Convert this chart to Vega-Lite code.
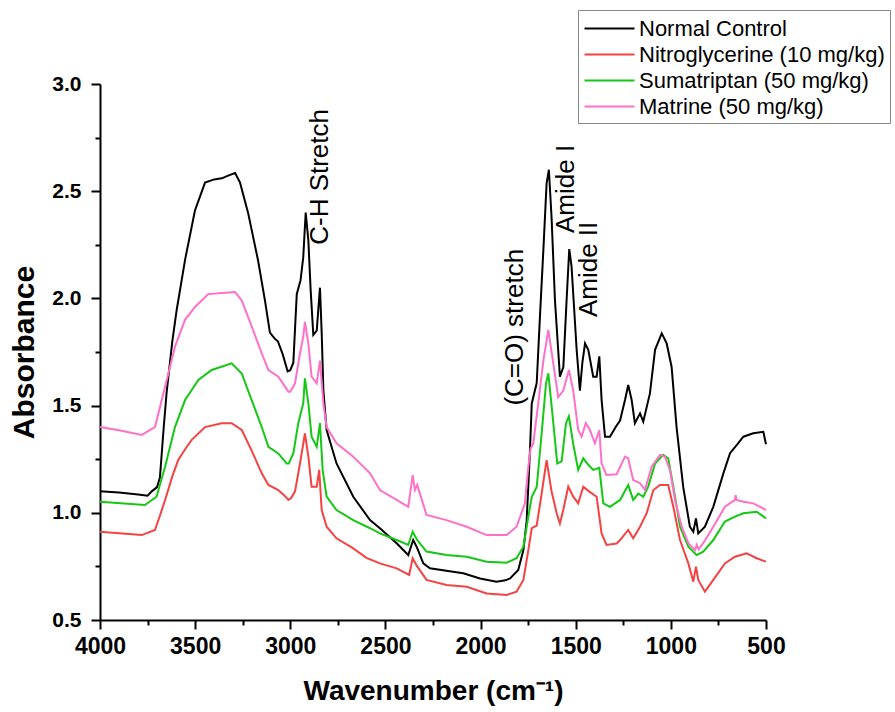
{
  "$schema": "https://vega.github.io/schema/vega-lite/v6.json",
  "width": 666,
  "height": 536,
  "autosize": {"type": "none"},
  "padding": {"left": 100, "top": 84, "right": 129, "bottom": 92},
  "background": "white",
  "config": {
    "view": {"stroke": null},
    "font": "Liberation Sans",
    "axis": {
      "grid": false,
      "domainColor": "black",
      "domainWidth": 2,
      "labelColor": "black",
      "labelFont": "Liberation Sans",
      "labelFontWeight": "bold",
      "titleFont": "Liberation Sans",
      "titleFontWeight": "bold",
      "titleColor": "black",
      "labelFlush": false,
      "labelOverlap": false
    }
  },
  "resolve": {"axis": {"x": "independent", "y": "independent"}},
  "datasets": {
    "spectra": [
      {"w":4000,"a":1.10,"s":"Normal Control"},{"w":3900,"a":1.095,"s":"Normal Control"},{"w":3800,"a":1.085,"s":"Normal Control"},{"w":3750,"a":1.08,"s":"Normal Control"},{"w":3728,"a":1.10,"s":"Normal Control"},{"w":3700,"a":1.12,"s":"Normal Control"},{"w":3685,"a":1.165,"s":"Normal Control"},{"w":3665,"a":1.40,"s":"Normal Control"},{"w":3650,"a":1.56,"s":"Normal Control"},{"w":3620,"a":1.80,"s":"Normal Control"},{"w":3597,"a":1.946,"s":"Normal Control"},{"w":3553,"a":2.18,"s":"Normal Control"},{"w":3501,"a":2.41,"s":"Normal Control"},{"w":3448,"a":2.54,"s":"Normal Control"},{"w":3400,"a":2.555,"s":"Normal Control"},{"w":3360,"a":2.56,"s":"Normal Control"},{"w":3320,"a":2.575,"s":"Normal Control"},{"w":3290,"a":2.585,"s":"Normal Control"},{"w":3264,"a":2.54,"s":"Normal Control"},{"w":3222,"a":2.40,"s":"Normal Control"},{"w":3170,"a":2.18,"s":"Normal Control"},{"w":3133,"a":1.99,"s":"Normal Control"},{"w":3107,"a":1.84,"s":"Normal Control"},{"w":3080,"a":1.81,"s":"Normal Control"},{"w":3065,"a":1.80,"s":"Normal Control"},{"w":3040,"a":1.74,"s":"Normal Control"},{"w":3014,"a":1.66,"s":"Normal Control"},{"w":3000,"a":1.665,"s":"Normal Control"},{"w":2984,"a":1.70,"s":"Normal Control"},{"w":2966,"a":2.02,"s":"Normal Control"},{"w":2946,"a":2.085,"s":"Normal Control"},{"w":2932,"a":2.19,"s":"Normal Control"},{"w":2919,"a":2.40,"s":"Normal Control"},{"w":2905,"a":2.27,"s":"Normal Control"},{"w":2893,"a":2.04,"s":"Normal Control"},{"w":2879,"a":1.83,"s":"Normal Control"},{"w":2861,"a":1.85,"s":"Normal Control"},{"w":2850,"a":1.98,"s":"Normal Control"},{"w":2844,"a":2.05,"s":"Normal Control"},{"w":2835,"a":1.84,"s":"Normal Control"},{"w":2826,"a":1.57,"s":"Normal Control"},{"w":2809,"a":1.386,"s":"Normal Control"},{"w":2757,"a":1.23,"s":"Normal Control"},{"w":2669,"a":1.075,"s":"Normal Control"},{"w":2581,"a":0.966,"s":"Normal Control"},{"w":2529,"a":0.928,"s":"Normal Control"},{"w":2441,"a":0.858,"s":"Normal Control"},{"w":2380,"a":0.803,"s":"Normal Control"},{"w":2354,"a":0.873,"s":"Normal Control"},{"w":2336,"a":0.842,"s":"Normal Control"},{"w":2301,"a":0.764,"s":"Normal Control"},{"w":2266,"a":0.741,"s":"Normal Control"},{"w":2180,"a":0.73,"s":"Normal Control"},{"w":2091,"a":0.718,"s":"Normal Control"},{"w":2003,"a":0.694,"s":"Normal Control"},{"w":1916,"a":0.679,"s":"Normal Control"},{"w":1870,"a":0.685,"s":"Normal Control"},{"w":1845,"a":0.694,"s":"Normal Control"},{"w":1802,"a":0.733,"s":"Normal Control"},{"w":1775,"a":0.826,"s":"Normal Control"},{"w":1758,"a":0.96,"s":"Normal Control"},{"w":1746,"a":1.184,"s":"Normal Control"},{"w":1740,"a":1.30,"s":"Normal Control"},{"w":1731,"a":1.51,"s":"Normal Control"},{"w":1705,"a":1.605,"s":"Normal Control"},{"w":1688,"a":1.915,"s":"Normal Control"},{"w":1670,"a":2.226,"s":"Normal Control"},{"w":1653,"a":2.537,"s":"Normal Control"},{"w":1641,"a":2.60,"s":"Normal Control"},{"w":1627,"a":2.38,"s":"Normal Control"},{"w":1609,"a":1.99,"s":"Normal Control"},{"w":1583,"a":1.635,"s":"Normal Control"},{"w":1565,"a":1.68,"s":"Normal Control"},{"w":1548,"a":1.99,"s":"Normal Control"},{"w":1534,"a":2.23,"s":"Normal Control"},{"w":1522,"a":2.15,"s":"Normal Control"},{"w":1495,"a":1.76,"s":"Normal Control"},{"w":1478,"a":1.57,"s":"Normal Control"},{"w":1465,"a":1.70,"s":"Normal Control"},{"w":1451,"a":1.79,"s":"Normal Control"},{"w":1434,"a":1.76,"s":"Normal Control"},{"w":1408,"a":1.635,"s":"Normal Control"},{"w":1390,"a":1.635,"s":"Normal Control"},{"w":1376,"a":1.73,"s":"Normal Control"},{"w":1364,"a":1.526,"s":"Normal Control"},{"w":1346,"a":1.355,"s":"Normal Control"},{"w":1320,"a":1.355,"s":"Normal Control"},{"w":1290,"a":1.40,"s":"Normal Control"},{"w":1267,"a":1.43,"s":"Normal Control"},{"w":1241,"a":1.526,"s":"Normal Control"},{"w":1224,"a":1.596,"s":"Normal Control"},{"w":1206,"a":1.526,"s":"Normal Control"},{"w":1189,"a":1.418,"s":"Normal Control"},{"w":1162,"a":1.464,"s":"Normal Control"},{"w":1145,"a":1.425,"s":"Normal Control"},{"w":1110,"a":1.557,"s":"Normal Control"},{"w":1083,"a":1.76,"s":"Normal Control"},{"w":1048,"a":1.837,"s":"Normal Control"},{"w":1022,"a":1.79,"s":"Normal Control"},{"w":996,"a":1.68,"s":"Normal Control"},{"w":970,"a":1.40,"s":"Normal Control"},{"w":935,"a":1.12,"s":"Normal Control"},{"w":900,"a":0.935,"s":"Normal Control"},{"w":882,"a":0.912,"s":"Normal Control"},{"w":868,"a":0.974,"s":"Normal Control"},{"w":856,"a":0.904,"s":"Normal Control"},{"w":821,"a":0.935,"s":"Normal Control"},{"w":777,"a":1.028,"s":"Normal Control"},{"w":724,"a":1.184,"s":"Normal Control"},{"w":689,"a":1.278,"s":"Normal Control"},{"w":650,"a":1.32,"s":"Normal Control"},{"w":619,"a":1.355,"s":"Normal Control"},{"w":567,"a":1.371,"s":"Normal Control"},{"w":514,"a":1.378,"s":"Normal Control"},{"w":500,"a":1.32,"s":"Normal Control"},

      {"w":4000,"a":0.912,"s":"Nitroglycerine (10 mg/kg)"},{"w":3900,"a":0.905,"s":"Nitroglycerine (10 mg/kg)"},{"w":3781,"a":0.896,"s":"Nitroglycerine (10 mg/kg)"},{"w":3711,"a":0.92,"s":"Nitroglycerine (10 mg/kg)"},{"w":3680,"a":1.00,"s":"Nitroglycerine (10 mg/kg)"},{"w":3658,"a":1.06,"s":"Nitroglycerine (10 mg/kg)"},{"w":3620,"a":1.17,"s":"Nitroglycerine (10 mg/kg)"},{"w":3589,"a":1.246,"s":"Nitroglycerine (10 mg/kg)"},{"w":3550,"a":1.30,"s":"Nitroglycerine (10 mg/kg)"},{"w":3518,"a":1.34,"s":"Nitroglycerine (10 mg/kg)"},{"w":3448,"a":1.40,"s":"Nitroglycerine (10 mg/kg)"},{"w":3360,"a":1.418,"s":"Nitroglycerine (10 mg/kg)"},{"w":3308,"a":1.418,"s":"Nitroglycerine (10 mg/kg)"},{"w":3255,"a":1.386,"s":"Nitroglycerine (10 mg/kg)"},{"w":3203,"a":1.29,"s":"Nitroglycerine (10 mg/kg)"},{"w":3150,"a":1.184,"s":"Nitroglycerine (10 mg/kg)"},{"w":3115,"a":1.13,"s":"Nitroglycerine (10 mg/kg)"},{"w":3063,"a":1.106,"s":"Nitroglycerine (10 mg/kg)"},{"w":3030,"a":1.08,"s":"Nitroglycerine (10 mg/kg)"},{"w":3010,"a":1.06,"s":"Nitroglycerine (10 mg/kg)"},{"w":2995,"a":1.07,"s":"Nitroglycerine (10 mg/kg)"},{"w":2975,"a":1.10,"s":"Nitroglycerine (10 mg/kg)"},{"w":2949,"a":1.23,"s":"Nitroglycerine (10 mg/kg)"},{"w":2923,"a":1.37,"s":"Nitroglycerine (10 mg/kg)"},{"w":2905,"a":1.262,"s":"Nitroglycerine (10 mg/kg)"},{"w":2888,"a":1.122,"s":"Nitroglycerine (10 mg/kg)"},{"w":2861,"a":1.122,"s":"Nitroglycerine (10 mg/kg)"},{"w":2848,"a":1.20,"s":"Nitroglycerine (10 mg/kg)"},{"w":2835,"a":1.013,"s":"Nitroglycerine (10 mg/kg)"},{"w":2809,"a":0.935,"s":"Nitroglycerine (10 mg/kg)"},{"w":2757,"a":0.881,"s":"Nitroglycerine (10 mg/kg)"},{"w":2669,"a":0.834,"s":"Nitroglycerine (10 mg/kg)"},{"w":2600,"a":0.79,"s":"Nitroglycerine (10 mg/kg)"},{"w":2529,"a":0.764,"s":"Nitroglycerine (10 mg/kg)"},{"w":2441,"a":0.741,"s":"Nitroglycerine (10 mg/kg)"},{"w":2375,"a":0.71,"s":"Nitroglycerine (10 mg/kg)"},{"w":2357,"a":0.788,"s":"Nitroglycerine (10 mg/kg)"},{"w":2333,"a":0.75,"s":"Nitroglycerine (10 mg/kg)"},{"w":2284,"a":0.687,"s":"Nitroglycerine (10 mg/kg)"},{"w":2179,"a":0.663,"s":"Nitroglycerine (10 mg/kg)"},{"w":2073,"a":0.655,"s":"Nitroglycerine (10 mg/kg)"},{"w":1968,"a":0.624,"s":"Nitroglycerine (10 mg/kg)"},{"w":1863,"a":0.617,"s":"Nitroglycerine (10 mg/kg)"},{"w":1811,"a":0.632,"s":"Nitroglycerine (10 mg/kg)"},{"w":1775,"a":0.687,"s":"Nitroglycerine (10 mg/kg)"},{"w":1749,"a":0.826,"s":"Nitroglycerine (10 mg/kg)"},{"w":1731,"a":0.928,"s":"Nitroglycerine (10 mg/kg)"},{"w":1705,"a":0.94,"s":"Nitroglycerine (10 mg/kg)"},{"w":1679,"a":1.09,"s":"Nitroglycerine (10 mg/kg)"},{"w":1653,"a":1.246,"s":"Nitroglycerine (10 mg/kg)"},{"w":1627,"a":1.10,"s":"Nitroglycerine (10 mg/kg)"},{"w":1600,"a":0.998,"s":"Nitroglycerine (10 mg/kg)"},{"w":1583,"a":0.95,"s":"Nitroglycerine (10 mg/kg)"},{"w":1565,"a":1.015,"s":"Nitroglycerine (10 mg/kg)"},{"w":1539,"a":1.122,"s":"Nitroglycerine (10 mg/kg)"},{"w":1513,"a":1.075,"s":"Nitroglycerine (10 mg/kg)"},{"w":1487,"a":1.044,"s":"Nitroglycerine (10 mg/kg)"},{"w":1460,"a":1.122,"s":"Nitroglycerine (10 mg/kg)"},{"w":1430,"a":1.10,"s":"Nitroglycerine (10 mg/kg)"},{"w":1390,"a":1.075,"s":"Nitroglycerine (10 mg/kg)"},{"w":1364,"a":0.904,"s":"Nitroglycerine (10 mg/kg)"},{"w":1338,"a":0.85,"s":"Nitroglycerine (10 mg/kg)"},{"w":1285,"a":0.857,"s":"Nitroglycerine (10 mg/kg)"},{"w":1267,"a":0.873,"s":"Nitroglycerine (10 mg/kg)"},{"w":1224,"a":0.92,"s":"Nitroglycerine (10 mg/kg)"},{"w":1198,"a":0.881,"s":"Nitroglycerine (10 mg/kg)"},{"w":1162,"a":0.935,"s":"Nitroglycerine (10 mg/kg)"},{"w":1127,"a":0.998,"s":"Nitroglycerine (10 mg/kg)"},{"w":1092,"a":1.106,"s":"Nitroglycerine (10 mg/kg)"},{"w":1057,"a":1.13,"s":"Nitroglycerine (10 mg/kg)"},{"w":1014,"a":1.13,"s":"Nitroglycerine (10 mg/kg)"},{"w":987,"a":1.028,"s":"Nitroglycerine (10 mg/kg)"},{"w":952,"a":0.873,"s":"Nitroglycerine (10 mg/kg)"},{"w":908,"a":0.764,"s":"Nitroglycerine (10 mg/kg)"},{"w":882,"a":0.679,"s":"Nitroglycerine (10 mg/kg)"},{"w":868,"a":0.749,"s":"Nitroglycerine (10 mg/kg)"},{"w":856,"a":0.687,"s":"Nitroglycerine (10 mg/kg)"},{"w":821,"a":0.632,"s":"Nitroglycerine (10 mg/kg)"},{"w":777,"a":0.687,"s":"Nitroglycerine (10 mg/kg)"},{"w":716,"a":0.764,"s":"Nitroglycerine (10 mg/kg)"},{"w":663,"a":0.795,"s":"Nitroglycerine (10 mg/kg)"},{"w":602,"a":0.811,"s":"Nitroglycerine (10 mg/kg)"},{"w":549,"a":0.788,"s":"Nitroglycerine (10 mg/kg)"},{"w":500,"a":0.772,"s":"Nitroglycerine (10 mg/kg)"},

      {"w":4000,"a":1.052,"s":"Sumatriptan (50 mg/kg)"},{"w":3764,"a":1.036,"s":"Sumatriptan (50 mg/kg)"},{"w":3703,"a":1.075,"s":"Sumatriptan (50 mg/kg)"},{"w":3658,"a":1.215,"s":"Sumatriptan (50 mg/kg)"},{"w":3606,"a":1.40,"s":"Sumatriptan (50 mg/kg)"},{"w":3553,"a":1.526,"s":"Sumatriptan (50 mg/kg)"},{"w":3483,"a":1.62,"s":"Sumatriptan (50 mg/kg)"},{"w":3413,"a":1.666,"s":"Sumatriptan (50 mg/kg)"},{"w":3308,"a":1.697,"s":"Sumatriptan (50 mg/kg)"},{"w":3255,"a":1.65,"s":"Sumatriptan (50 mg/kg)"},{"w":3203,"a":1.526,"s":"Sumatriptan (50 mg/kg)"},{"w":3150,"a":1.40,"s":"Sumatriptan (50 mg/kg)"},{"w":3115,"a":1.308,"s":"Sumatriptan (50 mg/kg)"},{"w":3063,"a":1.277,"s":"Sumatriptan (50 mg/kg)"},{"w":3019,"a":1.23,"s":"Sumatriptan (50 mg/kg)"},{"w":3008,"a":1.23,"s":"Sumatriptan (50 mg/kg)"},{"w":2984,"a":1.277,"s":"Sumatriptan (50 mg/kg)"},{"w":2958,"a":1.418,"s":"Sumatriptan (50 mg/kg)"},{"w":2932,"a":1.51,"s":"Sumatriptan (50 mg/kg)"},{"w":2923,"a":1.627,"s":"Sumatriptan (50 mg/kg)"},{"w":2905,"a":1.51,"s":"Sumatriptan (50 mg/kg)"},{"w":2888,"a":1.355,"s":"Sumatriptan (50 mg/kg)"},{"w":2861,"a":1.308,"s":"Sumatriptan (50 mg/kg)"},{"w":2844,"a":1.418,"s":"Sumatriptan (50 mg/kg)"},{"w":2830,"a":1.20,"s":"Sumatriptan (50 mg/kg)"},{"w":2809,"a":1.075,"s":"Sumatriptan (50 mg/kg)"},{"w":2757,"a":1.013,"s":"Sumatriptan (50 mg/kg)"},{"w":2669,"a":0.966,"s":"Sumatriptan (50 mg/kg)"},{"w":2581,"a":0.928,"s":"Sumatriptan (50 mg/kg)"},{"w":2529,"a":0.904,"s":"Sumatriptan (50 mg/kg)"},{"w":2441,"a":0.873,"s":"Sumatriptan (50 mg/kg)"},{"w":2380,"a":0.85,"s":"Sumatriptan (50 mg/kg)"},{"w":2357,"a":0.912,"s":"Sumatriptan (50 mg/kg)"},{"w":2333,"a":0.873,"s":"Sumatriptan (50 mg/kg)"},{"w":2284,"a":0.819,"s":"Sumatriptan (50 mg/kg)"},{"w":2179,"a":0.803,"s":"Sumatriptan (50 mg/kg)"},{"w":2073,"a":0.795,"s":"Sumatriptan (50 mg/kg)"},{"w":1968,"a":0.772,"s":"Sumatriptan (50 mg/kg)"},{"w":1863,"a":0.767,"s":"Sumatriptan (50 mg/kg)"},{"w":1811,"a":0.788,"s":"Sumatriptan (50 mg/kg)"},{"w":1775,"a":0.842,"s":"Sumatriptan (50 mg/kg)"},{"w":1749,"a":0.982,"s":"Sumatriptan (50 mg/kg)"},{"w":1731,"a":1.075,"s":"Sumatriptan (50 mg/kg)"},{"w":1705,"a":1.12,"s":"Sumatriptan (50 mg/kg)"},{"w":1679,"a":1.37,"s":"Sumatriptan (50 mg/kg)"},{"w":1656,"a":1.604,"s":"Sumatriptan (50 mg/kg)"},{"w":1644,"a":1.65,"s":"Sumatriptan (50 mg/kg)"},{"w":1621,"a":1.448,"s":"Sumatriptan (50 mg/kg)"},{"w":1597,"a":1.23,"s":"Sumatriptan (50 mg/kg)"},{"w":1574,"a":1.24,"s":"Sumatriptan (50 mg/kg)"},{"w":1551,"a":1.418,"s":"Sumatriptan (50 mg/kg)"},{"w":1536,"a":1.45,"s":"Sumatriptan (50 mg/kg)"},{"w":1513,"a":1.32,"s":"Sumatriptan (50 mg/kg)"},{"w":1487,"a":1.20,"s":"Sumatriptan (50 mg/kg)"},{"w":1460,"a":1.254,"s":"Sumatriptan (50 mg/kg)"},{"w":1440,"a":1.23,"s":"Sumatriptan (50 mg/kg)"},{"w":1408,"a":1.20,"s":"Sumatriptan (50 mg/kg)"},{"w":1376,"a":1.21,"s":"Sumatriptan (50 mg/kg)"},{"w":1355,"a":1.044,"s":"Sumatriptan (50 mg/kg)"},{"w":1320,"a":1.028,"s":"Sumatriptan (50 mg/kg)"},{"w":1267,"a":1.06,"s":"Sumatriptan (50 mg/kg)"},{"w":1224,"a":1.13,"s":"Sumatriptan (50 mg/kg)"},{"w":1198,"a":1.06,"s":"Sumatriptan (50 mg/kg)"},{"w":1171,"a":1.09,"s":"Sumatriptan (50 mg/kg)"},{"w":1145,"a":1.075,"s":"Sumatriptan (50 mg/kg)"},{"w":1119,"a":1.122,"s":"Sumatriptan (50 mg/kg)"},{"w":1083,"a":1.23,"s":"Sumatriptan (50 mg/kg)"},{"w":1040,"a":1.27,"s":"Sumatriptan (50 mg/kg)"},{"w":1014,"a":1.254,"s":"Sumatriptan (50 mg/kg)"},{"w":987,"a":1.122,"s":"Sumatriptan (50 mg/kg)"},{"w":952,"a":0.935,"s":"Sumatriptan (50 mg/kg)"},{"w":908,"a":0.842,"s":"Sumatriptan (50 mg/kg)"},{"w":865,"a":0.803,"s":"Sumatriptan (50 mg/kg)"},{"w":830,"a":0.819,"s":"Sumatriptan (50 mg/kg)"},{"w":777,"a":0.873,"s":"Sumatriptan (50 mg/kg)"},{"w":716,"a":0.959,"s":"Sumatriptan (50 mg/kg)"},{"w":663,"a":0.982,"s":"Sumatriptan (50 mg/kg)"},{"w":619,"a":0.998,"s":"Sumatriptan (50 mg/kg)"},{"w":549,"a":1.005,"s":"Sumatriptan (50 mg/kg)"},{"w":500,"a":0.974,"s":"Sumatriptan (50 mg/kg)"},

      {"w":4000,"a":1.40,"s":"Matrine (50 mg/kg)"},{"w":3900,"a":1.385,"s":"Matrine (50 mg/kg)"},{"w":3781,"a":1.363,"s":"Matrine (50 mg/kg)"},{"w":3711,"a":1.40,"s":"Matrine (50 mg/kg)"},{"w":3658,"a":1.588,"s":"Matrine (50 mg/kg)"},{"w":3606,"a":1.775,"s":"Matrine (50 mg/kg)"},{"w":3553,"a":1.90,"s":"Matrine (50 mg/kg)"},{"w":3501,"a":1.96,"s":"Matrine (50 mg/kg)"},{"w":3431,"a":2.02,"s":"Matrine (50 mg/kg)"},{"w":3360,"a":2.025,"s":"Matrine (50 mg/kg)"},{"w":3290,"a":2.03,"s":"Matrine (50 mg/kg)"},{"w":3255,"a":1.99,"s":"Matrine (50 mg/kg)"},{"w":3203,"a":1.87,"s":"Matrine (50 mg/kg)"},{"w":3150,"a":1.744,"s":"Matrine (50 mg/kg)"},{"w":3115,"a":1.666,"s":"Matrine (50 mg/kg)"},{"w":3063,"a":1.635,"s":"Matrine (50 mg/kg)"},{"w":3010,"a":1.565,"s":"Matrine (50 mg/kg)"},{"w":3000,"a":1.565,"s":"Matrine (50 mg/kg)"},{"w":2975,"a":1.604,"s":"Matrine (50 mg/kg)"},{"w":2949,"a":1.744,"s":"Matrine (50 mg/kg)"},{"w":2932,"a":1.82,"s":"Matrine (50 mg/kg)"},{"w":2923,"a":1.89,"s":"Matrine (50 mg/kg)"},{"w":2905,"a":1.79,"s":"Matrine (50 mg/kg)"},{"w":2888,"a":1.635,"s":"Matrine (50 mg/kg)"},{"w":2861,"a":1.604,"s":"Matrine (50 mg/kg)"},{"w":2844,"a":1.71,"s":"Matrine (50 mg/kg)"},{"w":2826,"a":1.51,"s":"Matrine (50 mg/kg)"},{"w":2809,"a":1.40,"s":"Matrine (50 mg/kg)"},{"w":2757,"a":1.324,"s":"Matrine (50 mg/kg)"},{"w":2669,"a":1.262,"s":"Matrine (50 mg/kg)"},{"w":2581,"a":1.184,"s":"Matrine (50 mg/kg)"},{"w":2529,"a":1.106,"s":"Matrine (50 mg/kg)"},{"w":2441,"a":1.06,"s":"Matrine (50 mg/kg)"},{"w":2380,"a":1.028,"s":"Matrine (50 mg/kg)"},{"w":2357,"a":1.176,"s":"Matrine (50 mg/kg)"},{"w":2345,"a":1.106,"s":"Matrine (50 mg/kg)"},{"w":2333,"a":1.13,"s":"Matrine (50 mg/kg)"},{"w":2284,"a":0.99,"s":"Matrine (50 mg/kg)"},{"w":2179,"a":0.966,"s":"Matrine (50 mg/kg)"},{"w":2073,"a":0.935,"s":"Matrine (50 mg/kg)"},{"w":1968,"a":0.896,"s":"Matrine (50 mg/kg)"},{"w":1863,"a":0.896,"s":"Matrine (50 mg/kg)"},{"w":1811,"a":0.935,"s":"Matrine (50 mg/kg)"},{"w":1767,"a":1.044,"s":"Matrine (50 mg/kg)"},{"w":1749,"a":1.215,"s":"Matrine (50 mg/kg)"},{"w":1737,"a":1.30,"s":"Matrine (50 mg/kg)"},{"w":1723,"a":1.324,"s":"Matrine (50 mg/kg)"},{"w":1697,"a":1.51,"s":"Matrine (50 mg/kg)"},{"w":1670,"a":1.71,"s":"Matrine (50 mg/kg)"},{"w":1644,"a":1.853,"s":"Matrine (50 mg/kg)"},{"w":1618,"a":1.697,"s":"Matrine (50 mg/kg)"},{"w":1592,"a":1.54,"s":"Matrine (50 mg/kg)"},{"w":1565,"a":1.57,"s":"Matrine (50 mg/kg)"},{"w":1536,"a":1.666,"s":"Matrine (50 mg/kg)"},{"w":1513,"a":1.57,"s":"Matrine (50 mg/kg)"},{"w":1487,"a":1.386,"s":"Matrine (50 mg/kg)"},{"w":1469,"a":1.355,"s":"Matrine (50 mg/kg)"},{"w":1447,"a":1.418,"s":"Matrine (50 mg/kg)"},{"w":1425,"a":1.386,"s":"Matrine (50 mg/kg)"},{"w":1399,"a":1.324,"s":"Matrine (50 mg/kg)"},{"w":1376,"a":1.386,"s":"Matrine (50 mg/kg)"},{"w":1364,"a":1.23,"s":"Matrine (50 mg/kg)"},{"w":1338,"a":1.176,"s":"Matrine (50 mg/kg)"},{"w":1285,"a":1.18,"s":"Matrine (50 mg/kg)"},{"w":1241,"a":1.262,"s":"Matrine (50 mg/kg)"},{"w":1224,"a":1.254,"s":"Matrine (50 mg/kg)"},{"w":1198,"a":1.153,"s":"Matrine (50 mg/kg)"},{"w":1162,"a":1.138,"s":"Matrine (50 mg/kg)"},{"w":1136,"a":1.106,"s":"Matrine (50 mg/kg)"},{"w":1101,"a":1.215,"s":"Matrine (50 mg/kg)"},{"w":1057,"a":1.27,"s":"Matrine (50 mg/kg)"},{"w":1031,"a":1.262,"s":"Matrine (50 mg/kg)"},{"w":1005,"a":1.20,"s":"Matrine (50 mg/kg)"},{"w":978,"a":1.06,"s":"Matrine (50 mg/kg)"},{"w":943,"a":0.935,"s":"Matrine (50 mg/kg)"},{"w":908,"a":0.858,"s":"Matrine (50 mg/kg)"},{"w":873,"a":0.826,"s":"Matrine (50 mg/kg)"},{"w":864,"a":0.85,"s":"Matrine (50 mg/kg)"},{"w":855,"a":0.83,"s":"Matrine (50 mg/kg)"},{"w":830,"a":0.858,"s":"Matrine (50 mg/kg)"},{"w":777,"a":0.935,"s":"Matrine (50 mg/kg)"},{"w":716,"a":1.028,"s":"Matrine (50 mg/kg)"},{"w":663,"a":1.06,"s":"Matrine (50 mg/kg)"},{"w":660,"a":1.083,"s":"Matrine (50 mg/kg)"},{"w":655,"a":1.06,"s":"Matrine (50 mg/kg)"},{"w":619,"a":1.052,"s":"Matrine (50 mg/kg)"},{"w":567,"a":1.044,"s":"Matrine (50 mg/kg)"},{"w":500,"a":1.013,"s":"Matrine (50 mg/kg)"}
    ],
    "labels": [
      {"w":2844,"a":2.25,"t":"C-H Stretch"},
      {"w":1819,"a":1.50,"t":"(C=O) stretch"},
      {"w":1551,"a":2.305,"t":"Amide I"},
      {"w":1430,"a":1.913,"t":"Amide II"}
    ]
  },
  "layer": [
    {
      "data": {"name": "spectra"},
      "mark": {"type": "line", "strokeWidth": 2, "interpolate": "linear"},
      "encoding": {
        "x": {
          "field": "w", "type": "quantitative",
          "scale": {"domain": [500, 4000], "reverse": true, "nice": false, "zero": false},
          "axis": {
            "orient": "bottom",
            "title": "Wavenumber (cm⁻¹)",
            "titleFontSize": 28,
            "values": [500,1000,1500,2000,2500,3000,3500,4000],
            "format": "d",
            "ticks": true,
            "tickSize": 9,
            "tickWidth": 2,
            "tickColor": "black",
            "tickOpacity": 1,
            "labelFontSize": 23,
            "labelPadding": 6,
            "titlePadding": 19
          }
        },
        "y": {
          "field": "a", "type": "quantitative",
          "scale": {"domain": [0.5, 3.0], "nice": false, "zero": false},
          "axis": {
            "orient": "left",
            "title": "Absorbance",
            "titleFontSize": 30,
            "values": [0.5,1.0,1.5,2.0,2.5,3.0],
            "format": ".1f",
            "ticks": true,
            "tickSize": 9,
            "tickWidth": 2,
            "tickColor": "black",
            "tickOpacity": 1,
            "labelFontSize": 21,
            "labelPadding": 10,
            "titlePadding": 12
          }
        },
        "color": {
          "field": "s", "type": "nominal",
          "scale": {
            "domain": ["Normal Control", "Nitroglycerine (10 mg/kg)", "Sumatriptan (50 mg/kg)", "Matrine (50 mg/kg)"],
            "range": ["#000000", "#F54242", "#14C814", "#FF70C8"]
          },
          "legend": {
            "title": null,
            "orient": "none",
            "legendX": 478,
            "legendY": -74,
            "symbolType": "M-2,0H2",
            "symbolSize": 625,
            "symbolStrokeWidth": 2,
            "symbolOffset": 13,
            "labelFont": "Liberation Sans",
            "labelFontSize": 22,
            "labelColor": "black",
            "labelLimit": 0,
            "labelOffset": 16,
            "rowPadding": 1,
            "strokeColor": "#888888",
            "fillColor": "white",
            "padding": 5
          }
        },
        "order": {"field": "w", "type": "quantitative"}
      }
    },
    {
      "data": {"name": "labels"},
      "mark": {"type": "text", "angle": 270, "align": "left", "baseline": "middle", "font": "Liberation Sans", "fontSize": 26, "color": "black"},
      "encoding": {
        "x": {
          "field": "w", "type": "quantitative",
          "axis": {
            "orient": "bottom", "title": null, "labels": false, "domain": false, "ticks": true,
            "tickColor": "black", "tickWidth": 2, "tickOpacity": 1,
            "values": [750,1250,1750,2250,2750,3250,3750], "tickSize": 5
          }
        },
        "y": {
          "field": "a", "type": "quantitative",
          "axis": {
            "orient": "left", "title": null, "labels": false, "domain": false, "ticks": true,
            "tickColor": "black", "tickWidth": 2, "tickOpacity": 1,
            "values": [0.75,1.25,1.75,2.25,2.75], "tickSize": 5
          }
        },
        "text": {"field": "t"}
      }
    }
  ]
}
